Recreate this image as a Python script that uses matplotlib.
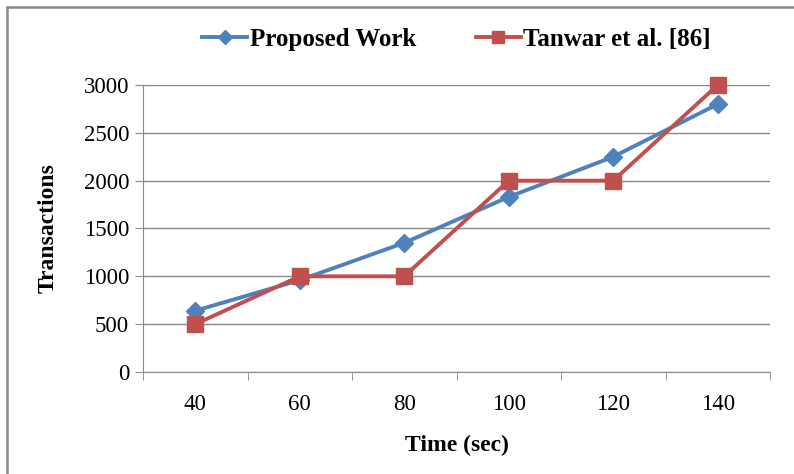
import matplotlib.pyplot as plt
from matplotlib.patches import Rectangle

plt.rcParams['font.family'] = ['Liberation Serif', 'DejaVu Serif']

# Data.
times = ["40", "60", "80", "100", "120", "140"]
proposed = [640, 960, 1350, 1830, 2250, 2800]
tanwar = [500, 1000, 1000, 2000, 2000, 3000]

fig = plt.figure(figsize=(7.94, 4.74), dpi=100)
ax = fig.add_axes([143 / 794, 1 - 372 / 474, (770 - 143) / 794, (372 - 85) / 474])

x = range(len(times))
ax.plot(x, proposed, color="#4F81BD", lw=2.8, marker="D", markersize=9.5,
        label="Proposed Work", zorder=3, clip_on=False)
ax.plot(x, tanwar, color="#C0504D", lw=2.8, marker="s", markersize=11.5,
        label="Tanwar et al. [86]", zorder=4, clip_on=False)

ax.set_xlim(-0.5, len(times) - 0.5)
ax.set_ylim(0, 3000)
ax.set_yticks(range(0, 3001, 500))
ax.set_xticks(x)
ax.set_xticklabels(times)
ax.set_xticks([i - 0.5 for i in range(len(times) + 1)], minor=True)
ax.tick_params(axis="x", which="major", length=0, pad=16, labelsize=16.5)
ax.tick_params(axis="x", which="minor", length=6, color="#888888", direction="out")
ax.tick_params(axis="y", length=6, color="#888888", labelsize=16.5, pad=4)

ax.grid(axis="y", color="#888888", lw=1)
ax.set_axisbelow(True)
for side in ["top", "right"]:
    ax.spines[side].set_visible(False)
for side in ["left", "bottom"]:
    ax.spines[side].set_color("#888888")

ax.set_xlabel("Time (sec)", fontsize=17, fontweight="bold", labelpad=14)
ax.set_ylabel("Transactions", fontsize=17, fontweight="bold", labelpad=18)

ax.legend(loc="lower center", bbox_to_anchor=(0.5, 1.04), ncol=2, frameon=False,
          prop={"weight": "bold", "size": 18}, handlelength=1.8, columnspacing=2.4,
          handletextpad=0.1, markerscale=0.75)

# Outer frame like the Excel chart area.
fig.patches.append(Rectangle((7 / 794, -0.1), 1.2, 1 - 7 / 474 + 0.1,
                             transform=fig.transFigure, fill=False,
                             edgecolor="#888888", lw=1.8))

fig.savefig("out.png", dpi=100)
